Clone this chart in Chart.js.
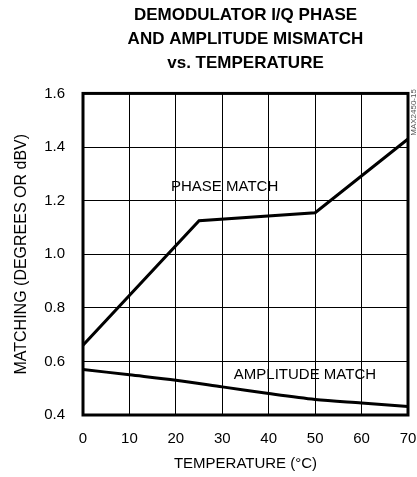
<!DOCTYPE html>
<html>
<head>
<meta charset="utf-8">
<script src="https://cdn.jsdelivr.net/npm/chart.js@4/dist/chart.umd.min.js"></script>
<style>
    html, body { margin: 0; padding: 0; background: #fff; }
    #wrap { width: 417px; height: 477px; }
</style>
</head>
<body>
<div id="wrap"><canvas id="chart" width="417" height="477"></canvas></div>
<script>
// Demodulator I/Q phase and amplitude mismatch vs. temperature

const titleLines = ['DEMODULATOR I/Q PHASE', 'AND AMPLITUDE MISMATCH', 'vs. TEMPERATURE'];

const phaseTemp = [0, 25, 50, 70];
const phaseVal = [0.66, 1.125, 1.155, 1.43];

const ampTemp = [0, 10, 20, 30, 40, 50, 60, 70];
const ampVal = [0.57, 0.55, 0.53, 0.505, 0.48, 0.458, 0.445, 0.432];

const xTicks = [0, 10, 20, 30, 40, 50, 60, 70];
const yTicks = [0.4, 0.6, 0.8, 1.0, 1.2, 1.4, 1.6];

// curve labels, placed in data units
const labels = [
    { text: 'PHASE MATCH', x: 30.5, y: 1.253 },
    { text: 'AMPLITUDE MATCH', x: 47.8, y: 0.549 }
];

const FONT = "'Liberation Sans', Arial, sans-serif";

const toPoints = (xs, ys) => xs.map((x, i) => ({ x: x, y: ys[i] }));

const extrasPlugin = {
    id: 'extras',
    afterDatasetsDraw(chart) {
        const { ctx, chartArea, scales } = chart;
        ctx.save();
        // heavy frame
        ctx.strokeStyle = '#000';
        ctx.lineWidth = 3;
        ctx.strokeRect(chartArea.left, chartArea.top,
            chartArea.right - chartArea.left, chartArea.bottom - chartArea.top);

        // curve names
        ctx.fillStyle = '#000';
        ctx.font = '15px ' + FONT;
        ctx.textAlign = 'center';
        ctx.textBaseline = 'middle';
        labels.forEach(l => {
            ctx.fillText(l.text, scales.x.getPixelForValue(l.x), scales.y.getPixelForValue(l.y));
        });

        // figure code on the right edge
        ctx.translate(chartArea.right + 6, chartArea.top + 19);
        ctx.rotate(-Math.PI / 2);
        ctx.font = '8px ' + FONT;
        ctx.fillStyle = '#555';
        ctx.fillText('MAX2450-15', 0, 0);
        ctx.restore();
    }
};

new Chart(document.getElementById('chart'), {
    type: 'line',
    data: {
        datasets: [{
            label: 'Phase match',
            data: toPoints(phaseTemp, phaseVal),
            borderColor: '#000',
            borderWidth: 3,
            pointRadius: 0,
            tension: 0
        }, {
            label: 'Amplitude match',
            data: toPoints(ampTemp, ampVal),
            borderColor: '#000',
            borderWidth: 3,
            pointRadius: 0,
            tension: 0.3
        }]
    },
    options: {
        responsive: false,
        animation: false,
        devicePixelRatio: 1,
        layout: { padding: { left: 12, right: 0, top: 0, bottom: 4 } },
        plugins: {
            legend: { display: false },
            tooltip: { enabled: false },
            title: {
                display: true,
                fullSize: false,
                text: titleLines,
                color: '#000',
                font: { family: FONT, size: 17, weight: 'bold', lineHeight: 1.42 },
                padding: { top: 3, bottom: 18 }
            }
        },
        scales: {
            x: {
                type: 'linear',
                min: 0,
                max: 70,
                afterBuildTicks: s => { s.ticks = xTicks.map(v => ({ value: v })); },
                afterFit: s => { s.height = 58; s.paddingRight = 9; },
                grid: { color: '#000', lineWidth: 1, drawTicks: false },
                border: { display: false },
                ticks: { color: '#000', padding: 15, font: { family: FONT, size: 15 } },
                title: {
                    display: true,
                    text: 'TEMPERATURE (°C)',
                    color: '#000',
                    font: { family: FONT, size: 15 },
                    padding: { top: 4, bottom: 0 }
                }
            },
            y: {
                min: 0.4,
                max: 1.6,
                afterBuildTicks: s => { s.ticks = yTicks.map(v => ({ value: v })); },
                afterFit: s => { s.width = 71; },
                grid: { color: '#000', lineWidth: 1, drawTicks: false },
                border: { display: false },
                ticks: {
                    color: '#000',
                    padding: 18,
                    font: { family: FONT, size: 15 },
                    callback: v => v.toFixed(1)
                },
                title: {
                    display: true,
                    text: 'MATCHING (DEGREES OR dBV)',
                    color: '#000',
                    font: { family: FONT, size: 16 },
                    padding: { top: 0, bottom: 4 }
                }
            }
        }
    },
    plugins: [extrasPlugin]
});
</script>
</body>
</html>
